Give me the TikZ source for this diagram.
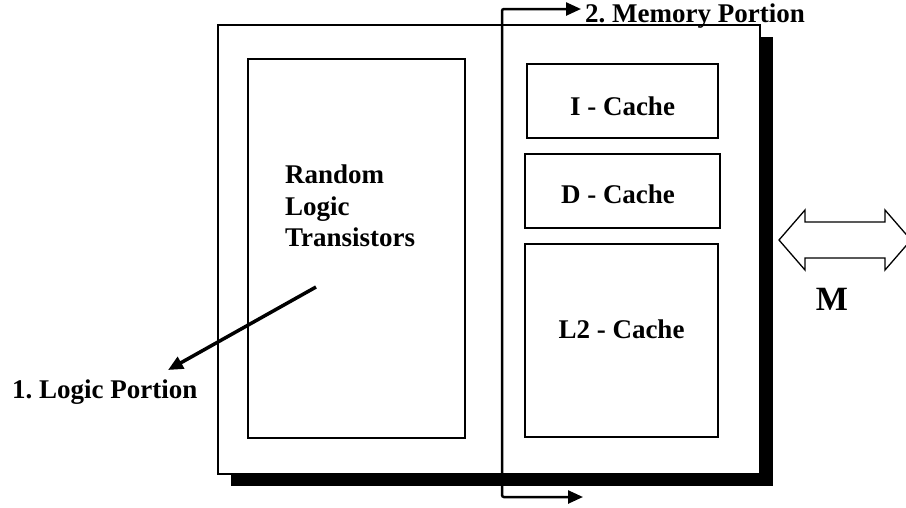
\documentclass[tikz,border=0pt]{standalone}
\usepackage{fontspec}
\setmainfont{Liberation Serif}
\usepackage{tikz}
\usetikzlibrary{arrows.meta}
\usetikzlibrary{shadows}
\frenchspacing
\tikzset{
    box/.style={draw, line width=2pt, fill=white, inner sep=0pt},
    lbl/.style={font=\bfseries\fontsize{27}{31.5}\selectfont, inner sep=0pt, anchor=base west},
    pointer/.style={line width=2.5pt, -{Triangle[length=15pt,width=13pt]}}}

\begin{document}
\begin{tikzpicture}[x=1pt, y=-1pt]
    \useasboundingbox (0,0) rectangle (906,507);

                    \node[box, minimum width=542pt, minimum height=449pt, general shadow={fill=black, shadow xshift=13pt, shadow yshift=-12pt}] (chip) at (489,249.5) {};
                    \node[box, minimum width=217pt, minimum height=379pt] (logic) at (356.5,248.5) {};
                    \node[box, minimum width=191pt, minimum height=74pt] (icache) at (622.5,101) {};
                    \node[box, minimum width=195pt, minimum height=74pt] (dcache) at (622.5,191) {};
                    \node[box, minimum width=193pt, minimum height=193pt] (ltwo) at (621.5,340.5) {};

                    \node[lbl, align=left, anchor=north west] (rlt) at (285,165) {Random\\Logic\\Transistors};
                    \node[lbl, anchor=base] (itxt) at (622.5,115) {I - Cache};
                    \node[lbl, anchor=base] (dtxt) at (618,203) {D - Cache};
                    \node[lbl, anchor=base] (ltxt) at (621.5,338) {L2 - Cache};
                    \node[lbl] (logicport) at (12,398) {1. Logic Portion};
                    \node[lbl] (memport) at (585,22) {2. Memory Portion};
                    \node[lbl, anchor=base, font=\bfseries\fontsize{34}{40}\selectfont] (mem) at (832,310) {M};

                    \coordinate (lstart) at (316,287);
                    \coordinate (ltip) at (168,370);
                    \coordinate (mtop) at (502,9);
                    \coordinate (mbot) at (502,497);
                    \coordinate (mtoptip) at (581,9);
                    \coordinate (mbottip) at (583,497);

                    \draw[pointer, line width=3.5pt] (lstart) -- (ltip);
                    \draw[pointer, {Triangle[length=15pt,width=13pt]}-{Triangle[length=15pt,width=13pt]}, rounded corners=2pt] (mtoptip) -- (mtop) -- (mbot) -- (mbottip);

                    \draw[line width=1.3pt, fill=white] (779,240) -- (805,210) -- (805,222) -- (885,222) -- (885,210) -- (911,240) -- (885,270) -- (885,258) -- (805,258) -- (805,270) -- cycle;

\end{tikzpicture}
\end{document}
